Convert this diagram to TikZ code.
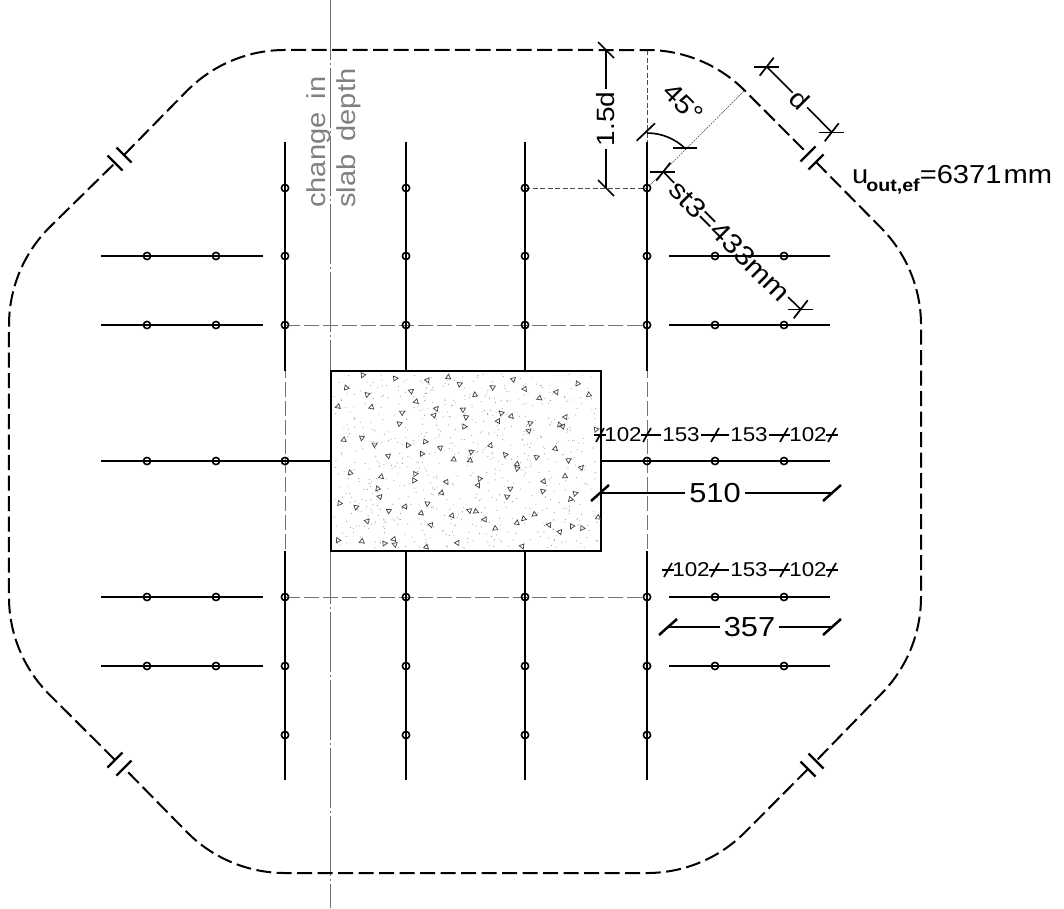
\documentclass[tikz,border=0pt]{standalone}
\usepackage{fontspec}
\setmainfont{Liberation Sans}
\newfontfamily\dimfont[FakeStretch=1.12]{Liberation Sans}
\newcommand{\dimsize}[1]{\dimfont\fontsize{#1}{#1}\selectfont}
\definecolor{thingrey}{gray}{0.45}
\tikzset{
  perim/.style={line width=2pt,dash pattern=on 15pt off 5.5pt},
  perimtick/.style={line width=2.2pt},
  bar/.style={line width=2.1pt},
  stud/.style={line width=1.6pt},
  hidden/.style={line width=0.8pt,color=thingrey,dash pattern=on 15pt off 4pt},
  guide/.style={line width=0.7pt,color=black!70,dash pattern=on 5pt off 2.5pt},
  cline/.style={line width=0.8pt,color=thingrey,dash pattern=on 60pt off 3pt on 2pt off 3pt},
  dimline/.style={line width=1.6pt},
  dimslash/.style={line width=1.7pt},
  bigslash/.style={line width=2.5pt},
  smalllabel/.style={inner sep=1.5pt,font=\dimsize{20}},
  biglabel/.style={inner sep=4pt,font=\dimsize{27.5}},
  greylabel/.style={inner sep=0pt,text=black!50,rotate=90,anchor=base west,font=\dimsize{26}},
  columnbox/.style={draw,line width=2.4pt,fill=white,minimum width=270pt,minimum height=180pt,inner sep=0pt}
}
\newcommand{\smalltick}[1]{\draw[dimslash] ([shift={(-4,7)}]#1) -- ([shift={(4,-7)}]#1);\draw[dimline] ([shift={(-6,0)}]#1) -- ([shift={(6,0)}]#1);}
\newcommand{\bigtick}[1]{\draw[bigslash] ([shift={(-9,8)}]#1) -- ([shift={(9,-8)}]#1);}
\newcommand{\crosstick}[1]{\draw[dimslash] ([shift={(-7,9)}]#1) -- ([shift={(7,-9)}]#1);\draw[dimline] ([shift={(-13,0)}]#1) -- ([shift={(12,0)}]#1);}
\begin{document}
\begin{tikzpicture}[x=1pt,y=-1pt]
\useasboundingbox (0,0) rectangle (1064,908);
% change in slab depth
\coordinate (clt) at (330,0);
\coordinate (clb) at (330,908);
\draw[cline] (clt) -- (clb);
\node[greylabel] (chg) at (325,208) {change\hspace{13pt}in};
\node[greylabel] (slb) at (355,208) {slab\hspace{13pt}depth};
% hidden grid
\draw[hidden] (285,325) -- (647,325);
\draw[hidden] (285,597) -- (647,597);
\draw[hidden] (285,325) -- (285,597);
\draw[hidden] (647,325) -- (647,597);
\draw[guide] (647,50) -- (647,188);
\draw[guide] (525,188) -- (647,188);
\draw[line width=0.5pt,color=black!70,dash pattern=on 2pt off 1pt] (647,188) -- (744.6,90.4);
% perimeter
\draw[perim] (124,155) -- (187.4,90.4) arc[start angle=225,end angle=270,radius=138] -- (647,50) arc[start angle=-90,end angle=-45,radius=138] -- (808,154);
\draw[perim] (816,162) -- (880.6,227.4) arc[start angle=-45,end angle=0,radius=138] -- (921,597) arc[start angle=0,end angle=45,radius=138] -- (816,761);
\draw[perim] (808,769) -- (744.6,832.6) arc[start angle=45,end angle=90,radius=138] -- (285,873) arc[start angle=90,end angle=135,radius=138] -- (124,768);
\draw[perim] (115,760) -- (49.4,694.6) arc[start angle=135,end angle=180,radius=138] -- (9,325) arc[start angle=180,end angle=225,radius=138] -- (115,163);
\foreach \a/\b in {115/163,124/155,808/769,816/761}{
  \draw[perimtick] ([shift={(-7.5,-7.5)}]\a,\b) -- ([shift={(7.5,7.5)}]\a,\b);
}
\foreach \a/\b in {808/154,816/162,115/760,124/768}{
  \draw[perimtick] ([shift={(-7.5,7.5)}]\a,\b) -- ([shift={(7.5,-7.5)}]\a,\b);
}
% vertical bars
\foreach \x in {285,406,525,647}{
  \draw[bar] (\x,142) -- (\x,371);
  \draw[bar] (\x,551) -- (\x,780);
  \foreach \y in {188,256,325,597,666,735}{\draw[stud] (\x,\y) circle[radius=3.6];}
}
% horizontal bars
\foreach \y in {256,325,597,666}{
  \draw[bar] (101,\y) -- (263,\y);
  \draw[bar] (669,\y) -- (830,\y);
  \foreach \x in {147,216,715,784}{\draw[stud] (\x,\y) circle[radius=3.6];}
}
\draw[bar] (101,461) -- (331,461);
\draw[bar] (601,461) -- (830,461);
\foreach \x in {147,216,285,647,715,784}{\draw[stud] (\x,461) circle[radius=3.6];}
% column
\node[columnbox] (col) at (466,461) {};
\pgfmathsetseed{7}
\foreach \i in {1,...,700}{
  \pgfmathsetmacro{\dx}{334+rnd*264}
  \pgfmathsetmacro{\dy}{374+rnd*174}
  \fill[black!40] (\dx,\dy) circle[radius=0.55];
}
\foreach \a/\b in {115/30,212/40,63/67,128/88,38/125,140/125,308/47,370/35,405/57,257/78,272/110,335/130,328/150,230/142,222/175,415/133,423/158,417/186,450/88,502/66,565/45,600/73,642/100,695/80,757/57,793/90,528/143,560/155,520/167,617/174,610/197,722/155,703/178,714/183,812/192,55/225,110/220,150/238,248/242,302/230,346/250,290/265,190/274,440/260,497/240,540/268,636/276,692/252,732/285,770/307,434/287,385/284,75/322,170/336,270/328,267/345,463/340,365/352,460/362,350/382,157/372,163/395,575/298,576/312,720/332,657/350,655/378,557/370,545/394,752/385,738/403,45/415,93/428,190/437,238/425,307/417,432/436,451/440,382/453,480/462,287/445,125/468,318/481,512/491,595/462,576/472,627/449,673/481,740/485,771/488,705/502,818/458,38/527,112/530,205/523,210/540,180/535,305/547,398/535,592/545}{
  \pgfmathsetmacro{\px}{325+\a/3}
  \pgfmathsetmacro{\py}{365+\b/3}
  \pgfmathsetmacro{\tr}{rnd*360}
  \draw[line width=0.7pt,black!75,rotate around={\tr:(\px,\py)}] (\px,\py-2.5) -- (\px+2.5,\py+2) -- (\px-2.5,\py+2) -- cycle;
}
% dimension 1.5d
\coordinate (ha) at (606,50);
\coordinate (hb) at (606,188);
\node[inner sep=3pt,font=\dimsize{25},rotate=90] (hl) at (606,119) {1.5d};
\draw[dimline] (ha) -- (hl) (hl) -- (hb);
\foreach \p in {ha,hb}{\draw[dimslash] ([shift={(-8,-8)}]\p) -- ([shift={(8,8)}]\p);}
% dimension d
\coordinate (da) at (766.7,66.7);
\coordinate (db) at (831.7,132.3);
\node[inner sep=2pt,font=\dimsize{26},rotate=-45] (dl) at (800,100) {d};
\draw[dimline] (da) -- (dl) (dl) -- (db);
\crosstick{da}
\crosstick{db}
% angle 45
\draw[dimline] (647,133) arc[start angle=-90,end angle=-45,radius=55];
\draw[dimslash] (636.7,140.7) -- (655,123.3);
\draw[dimslash] (672.7,148.3) -- (697.3,148.3);
\node[inner sep=0pt,font=\dimsize{26},rotate=-45] (al) at (683,103) {45°};
% dimension st3
\coordinate (sa) at (663.3,171.7);
\coordinate (sb) at (800.7,309.3);
\node[inner sep=1pt,font=\dimsize{27},rotate=-45] (sl) at (730,241) {st3=433mm};
\draw[dimline] (sa) -- (sl) (sl) -- (sb);
\crosstick{sa}
\crosstick{sb}
% perimeter label
\node[inner sep=0pt,anchor=base west] (ul) at (852,183) {\dimsize{26}u\kern-2pt\raisebox{-8pt}{\fontsize{17.5}{17.5}\selectfont\bfseries out,ef}=6371\kern2pt mm};
% row 1
\coordinate (ra) at (600,435);
\coordinate (rb) at (647,435);
\coordinate (rc) at (715,435);
\coordinate (rd) at (784,435);
\coordinate (re) at (832,435);
\node[smalllabel] (r1) at (623,435) {102};
\node[smalllabel] (r2) at (681,435) {153};
\node[smalllabel] (r3) at (749,435) {153};
\node[smalllabel] (r4) at (808,435) {102};
\draw[dimline] (ra) -- (r1) (r1) -- (rb) (rb) -- (r2) (r2) -- (rc) (rc) -- (r3) (r3) -- (rd) (rd) -- (r4) (r4) -- (re);
\foreach \p in {ra,rb,rc,rd,re}{\smalltick{\p}}
% row 2
\coordinate (ta) at (600,493);
\coordinate (tb) at (832,493);
\node[biglabel] (tl) at (715,493) {510};
\draw[dimline] (ta) -- (tl) (tl) -- (tb);
\bigtick{ta}
\bigtick{tb}
% row 3
\coordinate (qa) at (668,570);
\coordinate (qb) at (715,570);
\coordinate (qc) at (784,570);
\coordinate (qd) at (832,570);
\node[smalllabel] (q1) at (691,570) {102};
\node[smalllabel] (q2) at (749,570) {153};
\node[smalllabel] (q3) at (808,570) {102};
\draw[dimline] (qa) -- (q1) (q1) -- (qb) (qb) -- (q2) (q2) -- (qc) (qc) -- (q3) (q3) -- (qd);
\foreach \p in {qa,qb,qc,qd}{\smalltick{\p}}
% row 4
\coordinate (pa) at (668,627);
\coordinate (pb) at (832,627);
\node[biglabel] (pl) at (749.5,627) {357};
\draw[dimline] (pa) -- (pl) (pl) -- (pb);
\bigtick{pa}
\bigtick{pb}
\end{tikzpicture}
\end{document}
